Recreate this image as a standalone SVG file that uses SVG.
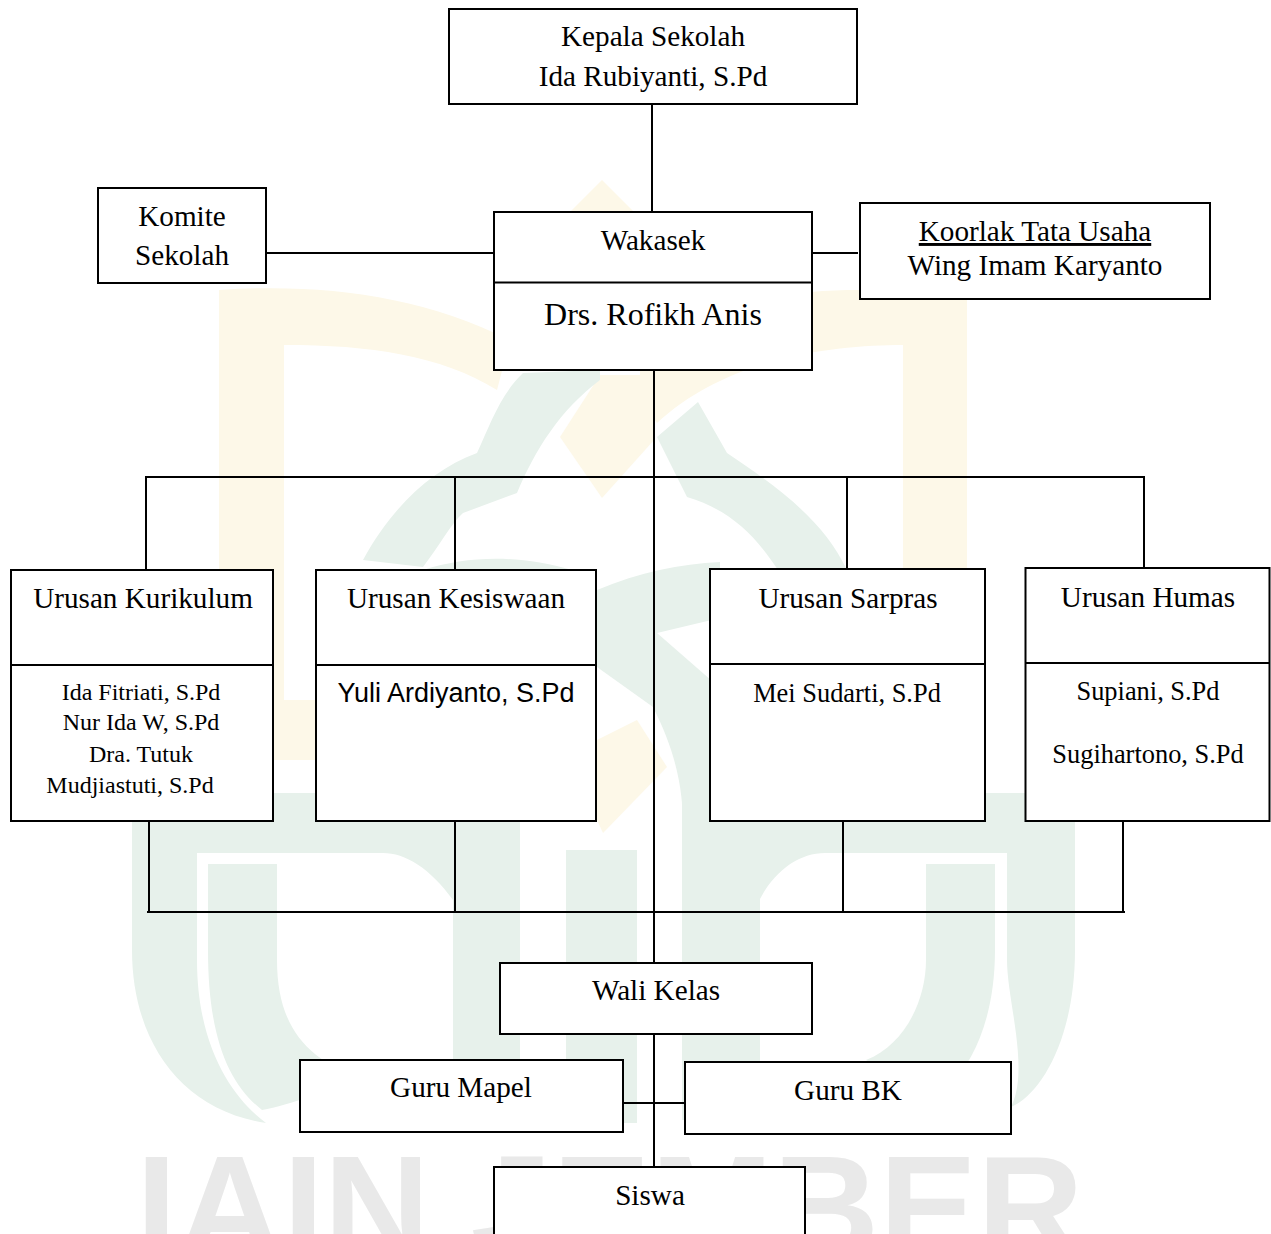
<svg xmlns="http://www.w3.org/2000/svg" width="1271" height="1234" viewBox="0 0 1271 1234">
<style>
.box{fill:#fff;stroke:#000;stroke-width:2}
.ln{fill:none;stroke:#000;stroke-width:2}
text{font-family:"Liberation Serif","Times New Roman",serif;fill:#000;text-anchor:middle}
.a{font-size:29.2px}
.b{font-size:32px}
.c{font-size:26.4px}
.d{font-size:24px}
.s{font-family:"Liberation Sans",Arial,sans-serif;font-size:27px}
.wm{font-family:"Liberation Sans",Arial,sans-serif;font-weight:700;font-size:147px;fill:#e9e9e9;text-anchor:start}
.y{fill:#fdf8e8}
.g{fill:#e7f1eb}
</style>
<g id="watermark">
<path class="y" d="M219 290C320 283 420 295 510 340L497 390C440 355 370 345 284 345V700H400V760H219Z"/>
<path class="y" d="M967 300V570H903V345C840 345 730 355 657 423L640 400L640 330C700 305 780 290 860 290Z"/>
<path class="y" d="M602 180L570 212H634Z"/>
<path class="y" d="M600 375L654 375V440L602 498L560 437Z"/>
<path class="y" d="M597 740L637 720L667 767L603 833L597 820Z"/>
<path class="g" d="M523 373C500 395 490 425 477 453C430 470 390 510 363 560L423 567C440 545 450 525 463 513L517 493C535 450 560 410 600 380L600 370Z"/>
<path class="g" d="M698 402L657 437L687 497C730 510 755 535 778 570H847C825 525 790 495 727 453Z"/>
<path class="g" d="M423 570C470 555 520 555 572 570Z"/>
<path class="g" d="M597 590C640 572 680 564 720 562V618L657 633L720 688V840H683C684 800 680 760 653 707L597 667Z"/>
<path class="g" d="M132 793H520V1118H453V900C430 868 405 853 383 853H197V960C197 1050 235 1100 266 1123C180 1110 132 1040 132 950Z"/>
<path class="g" d="M208 864H277V960C277 1030 310 1060 360 1078C330 1090 290 1105 262 1110C230 1085 208 1040 208 950Z"/>
<path class="g" d="M566 850H637V1123H566Z"/>
<path class="g" d="M682 793H1075V950C1075 1040 1040 1095 1011 1107C1030 1070 1007 1000 1007 960V853H825C800 853 775 870 760 899V1120H682Z"/>
<path class="g" d="M926 864H995V950C995 1015 975 1060 950 1085C920 1082 890 1075 866 1060C905 1045 926 1000 926 960Z"/>
<text class="wm" x="136" y="1258">IAIN JEMBER</text>
</g>
<g id="connectors">
<path class="ln" d="M652 104V212M654 370V963M654 1034V1167M146 570V477H1144V570M455 477V570M847 477V569M149 821V912M455 821V912M843 821V912M1123 821V912M147 912H1125M266 253H494M812 253H858M623 1103H685"/>
</g>
<g id="kepala"><rect class="box" x="449" y="9" width="408" height="95"/><text class="a" x="653" y="46">Kepala Sekolah</text><text class="a" x="653" y="86">Ida Rubiyanti, S.Pd</text></g>
<g id="komite"><rect class="box" x="98" y="188" width="168" height="95"/><text class="a" x="182" y="226">Komite</text><text class="a" x="182" y="265">Sekolah</text></g>
<g id="wakasek"><rect class="box" x="494" y="212" width="318" height="158"/><path class="ln" d="M494 282.500H812"/><text class="a" x="653" y="250">Wakasek</text><text class="b" x="653" y="325">Drs. Rofikh Anis</text></g>
<g id="koorlak"><rect class="box" x="860" y="203" width="350" height="96"/><text class="a" x="1035" y="241" text-decoration="underline">Koorlak Tata Usaha</text><text class="a" x="1035" y="275">Wing Imam Karyanto</text></g>
<g id="kurikulum"><rect class="box" x="11" y="570" width="262" height="251"/><path class="ln" d="M11 665H273"/><text class="a" x="143" y="608">Urusan Kurikulum</text><text class="d" x="141" y="700">Ida Fitriati, S.Pd</text><text class="d" x="141" y="730">Nur Ida W, S.Pd</text><text class="d" x="141" y="762">Dra. Tutuk</text><text class="d" x="130" y="793">Mudjiastuti, S.Pd</text></g>
<g id="kesiswaan"><rect class="box" x="316" y="570" width="280" height="251"/><path class="ln" d="M316 665H596"/><text class="a" x="456" y="608">Urusan Kesiswaan</text><text class="s" x="456" y="702">Yuli Ardiyanto, S.Pd</text></g>
<g id="sarpras"><rect class="box" x="710" y="569" width="275" height="252"/><path class="ln" d="M710 664H985"/><text class="a" x="848" y="608">Urusan Sarpras</text><text class="c" x="847" y="702">Mei Sudarti, S.Pd</text></g>
<g id="humas"><rect class="box" x="1025.500" y="568" width="244" height="253"/><path class="ln" d="M1025 663H1270"/><text class="a" x="1148" y="607">Urusan Humas</text><text class="c" x="1148" y="700">Supiani, S.Pd</text><text class="c" x="1148" y="763">Sugihartono, S.Pd</text></g>
<g id="walikelas"><rect class="box" x="500" y="963" width="312" height="71"/><text class="a" x="656" y="1000">Wali Kelas</text></g>
<g id="gurumapel"><rect class="box" x="300" y="1060" width="323" height="72"/><text class="a" x="461" y="1097">Guru Mapel</text></g>
<g id="gurubk"><rect class="box" x="685" y="1062" width="326" height="72"/><text class="a" x="848" y="1100">Guru BK</text></g>
<g id="siswa"><rect class="box" x="494" y="1167" width="311" height="90"/><text class="a" x="650" y="1205">Siswa</text></g>
</svg>
